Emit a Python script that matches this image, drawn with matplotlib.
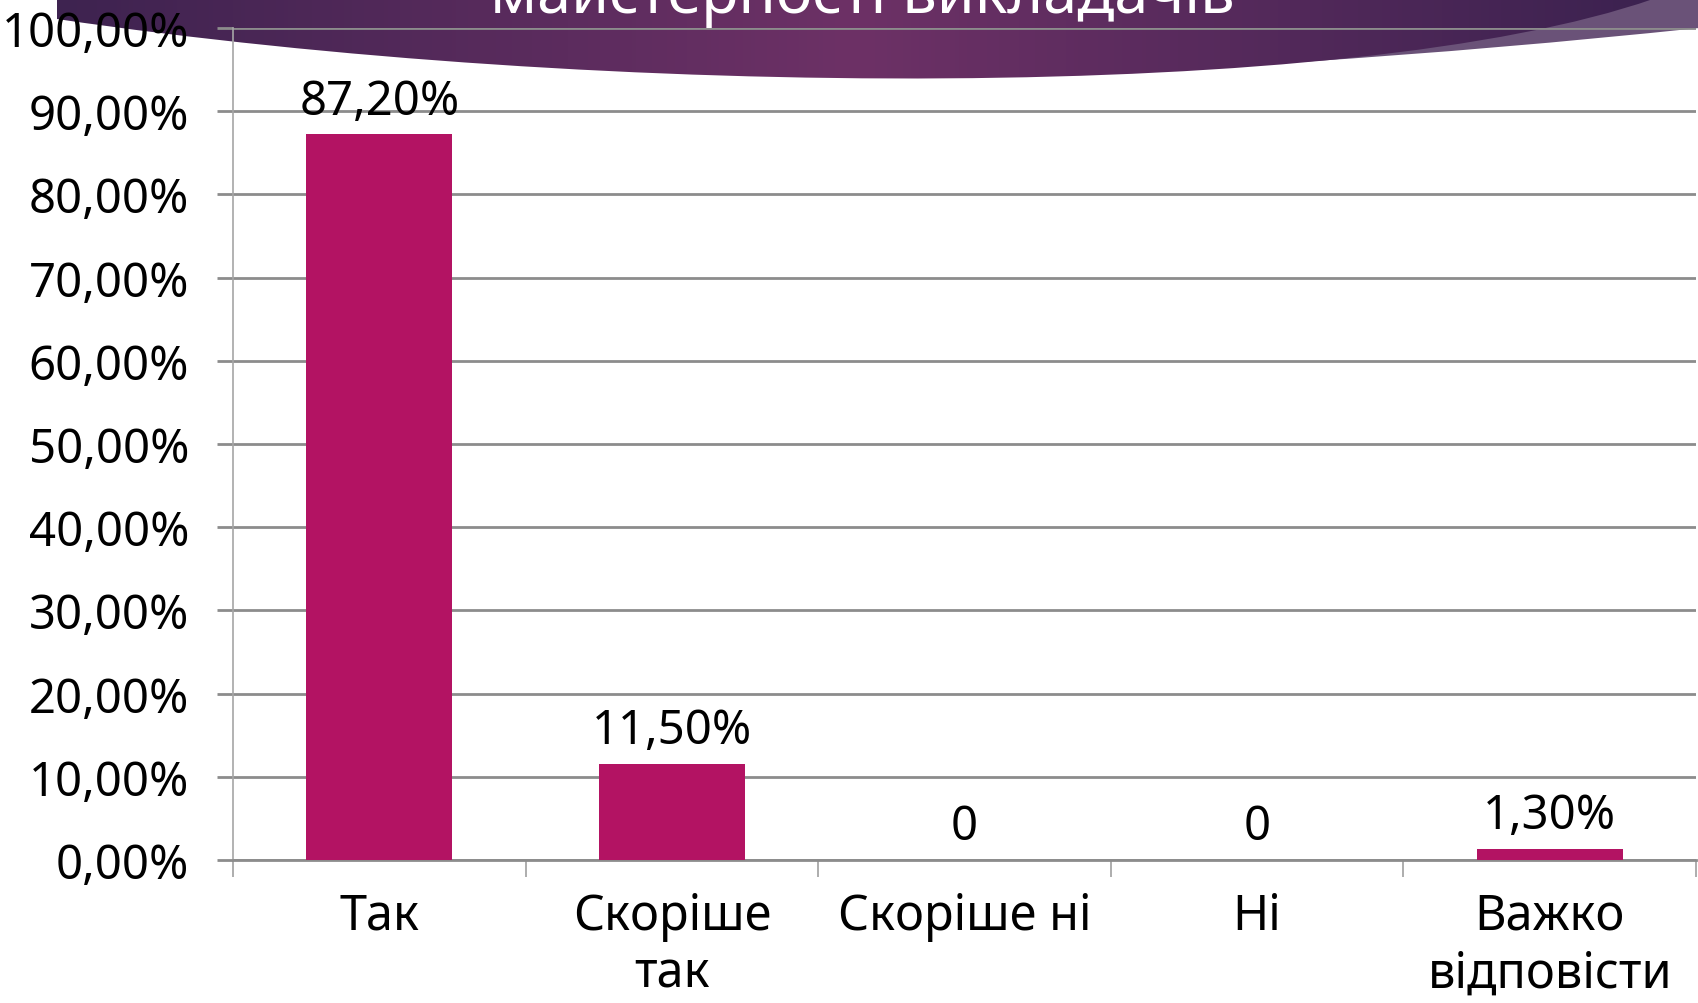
import numpy as np
import matplotlib
matplotlib.use('Agg')
import matplotlib.pyplot as plt
from matplotlib.path import Path
from matplotlib.patches import PathPatch
from matplotlib.colors import LinearSegmentedColormap

plt.rcParams['font.family'] = ['Noto Sans', 'DejaVu Sans']

# ── 数据 ───────────────────────────────
categories = ['Так', 'Скоріше\nтак', 'Скоріше ні', 'Ні', 'Важко\nвідповісти']
values = [87.2, 11.5, 0, 0, 1.3]
labels = ['87,20%', '11,50%', '0', '0', '1,30%']
y_ticks = [0, 10, 20, 30, 40, 50, 60, 70, 80, 90, 100]
title_tail = 'майстерності викладачів'

W, H = 1699, 1004
fig = plt.figure(figsize=(W / 100, H / 100), dpi=100)

# ── 顶部装饰条 ───────────────────────────────
bg = fig.add_axes([0, 0, 1, 1], zorder=0)
bg.set_xlim(0, W)
bg.set_ylim(H, 0)
bg.axis('off')

light = Path([(1250, 0), (1250, 55), (1300, 63), (1500, 50), (1699, 29), (1699, 0), (1250, 0)],
             [Path.MOVETO, Path.LINETO, Path.LINETO, Path.CURVE3, Path.CURVE3,
              Path.LINETO, Path.CLOSEPOLY])
bg.add_patch(PathPatch(light, facecolor='#6a5278', edgecolor='none', zorder=-1))

dark = Path([(57, 0), (57, 20), (600, 100), (1350, 105), (1653, 0), (57, 0)],
            [Path.MOVETO, Path.LINETO, Path.CURVE4, Path.CURVE4, Path.CURVE4, Path.CLOSEPOLY])
patch = PathPatch(dark, facecolor='none', edgecolor='none')
bg.add_patch(patch)
cmap = LinearSegmentedColormap.from_list('banner', ['#3e2350', '#6d3166', '#3c2250'])
grad = np.linspace(0, 1, 400).reshape(1, -1)
im = bg.imshow(grad, cmap=cmap, extent=[57, 1653, 120, 0], aspect='auto', zorder=0)
im.set_clip_path(patch)

bg.text(862, 13, title_tail, color='white', fontsize=44, fontweight='bold',
        ha='center', va='baseline', zorder=2)

# ── 柱状图 ───────────────────────────────
ax = fig.add_axes([233 / W, 1 - 861 / H, (1696 - 233) / W, (861 - 29) / H], zorder=1)
ax.patch.set_alpha(0)
x = np.arange(len(categories))
bars = ax.bar(x, values, width=0.5, color='#b31363', zorder=3)
for bar, lab in zip(bars, labels):
    ax.annotate(lab, (bar.get_x() + bar.get_width() / 2, bar.get_height()),
                xytext=(0, 15), textcoords='offset points',
                ha='center', va='baseline', fontsize=34, color='black')

ax.set_xlim(-0.5, len(categories) - 0.5)
ax.set_ylim(0, 100)
ax.set_yticks(y_ticks)
ax.set_yticklabels([f'{v:.2f}%'.replace('.', ',') for v in y_ticks], fontsize=34)
ax.yaxis.grid(True, color='#8c8c8c', linewidth=2, zorder=0)
ax.set_axisbelow(True)

ax.set_xticks(x)
ax.set_xticklabels(categories, fontsize=35, linespacing=1.2)
ax.set_xticks(np.arange(-0.5, len(categories)), minor=True)
ax.tick_params(axis='x', which='major', length=0, pad=22)
ax.tick_params(axis='x', which='minor', length=12, width=1.2, color='#a0a0a0')
ax.tick_params(axis='y', length=11.5, width=2, color='#8c8c8c', pad=20)

for s in ['top', 'right']:
    ax.spines[s].set_visible(False)
ax.spines['left'].set_color('#a6a6a6')
ax.spines['left'].set_linewidth(1.2)
ax.spines['bottom'].set_color('#8c8c8c')
ax.spines['bottom'].set_linewidth(2)

plt.savefig('out.png', dpi=100)
plt.close()
